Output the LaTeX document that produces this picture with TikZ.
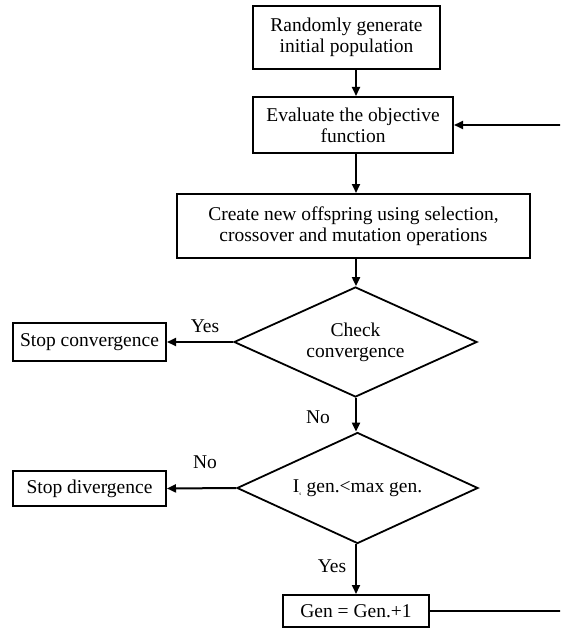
\documentclass[tikz,border=0pt]{standalone}
\usepackage{fontspec}
\setmainfont{Liberation Serif}
\usetikzlibrary{shapes.geometric,arrows.meta}

\begin{document}
\begin{tikzpicture}[x=1pt, y=-1pt,
  font=\fontsize{19.5}{21}\selectfont,
  box/.style={draw, line width=2pt, align=center, inner sep=2pt},
  decision/.style={draw, diamond, shape aspect=2.5, line width=1.8pt, align=center, inner sep=0pt},
  arrow/.style={-{Triangle[length=9pt, width=8pt]}, line width=2pt},
  lbl/.style={inner sep=1pt}]

  % --- frame (the return line runs past the right edge) ---
  \clip (0,0) rectangle (560,631);

  % --- main column ---
  \node[box, minimum width=187pt, minimum height=63pt] (init) at (346.5,37.5)
    {Randomly generate\\initial population};
  \node[box, minimum width=200pt, minimum height=56pt] (eval) at (353,125)
    {Evaluate the objective\\function};
  \node[box, minimum width=353pt, minimum height=64pt] (create) at (353.5,226)
    {Create new offspring using selection,\\crossover and mutation operations};
  \node[decision, minimum width=243pt, minimum height=110pt] (chk) at (355.5,342)
    {Check\\convergence};
  \node[decision, minimum width=241pt, minimum height=111pt] (maxgen) at (357.5,488)
    {I\textsubscript{\tiny s} gen.<max gen.};
  \node[box, minimum width=146pt, minimum height=32pt] (gen) at (356,611)
    {Gen = Gen.+1};

  % --- stop boxes ---
  \node[box, minimum width=153pt, minimum height=38pt] (stopc) at (89.5,342) {Stop convergence};
  \node[box, minimum width=153pt, minimum height=35pt] (stopd) at (89.5,488.5) {Stop divergence};

  % --- labels ---
  \node[lbl] (yesc) at (205,326) {Yes};
  \node[lbl] (noc)  at (318,417) {No};
  \node[lbl] (nod)  at (205,462) {No};
  \node[lbl] (yesd) at (332,566) {Yes};

  % --- flows ---
  \draw[arrow] (init.south -| gen)   -- (eval.north -| gen);
  \draw[arrow] (eval.south -| gen)   -- (create.north -| gen);
  \draw[arrow] (create.south -| gen) -- (chk.north -| gen);
  \draw[arrow] (chk.south -| gen)    -- (maxgen.north -| gen);
  \draw[arrow] (maxgen.south -| gen) -- (gen.north);
  \draw[arrow] (chk.west)    -- (stopc.east);
  \draw[arrow] (maxgen.west) -- (stopd.east);
  \draw[arrow] (gen.east) -- ++(145,0) |- (eval.east);
\end{tikzpicture}
\end{document}
